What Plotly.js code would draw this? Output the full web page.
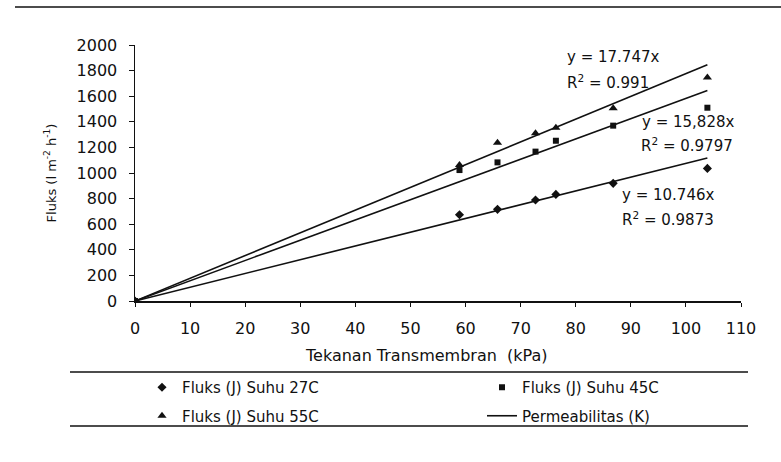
<!DOCTYPE html>
<html>
<head>
<meta charset="utf-8">
<script src="https://cdn.plot.ly/plotly-3.0.1.min.js"></script>
<style>html,body{margin:0;padding:0;background:#fff;}#chart{width:781px;height:462px;}</style>
</head>
<body>
<div id="chart"></div>
<script>
// Transmembrane pressure (kPa)
const pressure = [0, 58.9, 65.8, 72.7, 76.4, 86.8, 103.9];
// Flux values
const flux27 = [0, 674, 716, 789, 833, 919, 1036];
const flux45 = [0, 1023, 1083, 1167, 1252, 1370, 1510];
const flux55 = [0, 1062, 1237, 1310, 1354, 1505, 1747];
// Trend line (permeability) endpoints
const trendX = [0, 103.9];
const trend27 = [0, 1117];
const trend45 = [0, 1645];
const trend55 = [0, 1845];
// Labels
const seriesNames = ["Fluks (J) Suhu 27C", "Fluks (J) Suhu 45C", "Fluks (J) Suhu 55C", "Permeabilitas (K)"];
const eqLabels = ["y = 17.747x", "R<sup>2</sup> = 0.991", "y = 15,828x", "R<sup>2</sup> = 0.9797", "y = 10.746x", "R<sup>2</sup> = 0.9873"];
const xTicks = [0, 10, 20, 30, 40, 50, 60, 70, 80, 90, 100, 110];
const yTicks = [0, 200, 400, 600, 800, 1000, 1200, 1400, 1600, 1800, 2000];

const ink = '#111';
const F = 'DejaVu Sans, sans-serif';

const traces = [
  {x: pressure, y: flux27, mode: 'markers', name: seriesNames[0], legend: 'legend', legendgroup: 'g1', marker: {symbol: 'diamond', size: 7, color: ink}},
  {x: pressure, y: flux45, mode: 'markers', name: seriesNames[1], legend: 'legend2', legendgroup: 'g2', marker: {symbol: 'square', size: 6, color: ink}},
  {x: pressure, y: flux55, mode: 'markers', name: seriesNames[2], legend: 'legend', legendgroup: 'g3', marker: {symbol: 'triangle-up', size: 8, color: ink}},
  {x: trendX, y: trend55, mode: 'lines', name: seriesNames[3], legend: 'legend2', legendgroup: 'g4', line: {color: ink, width: 1.6}, showlegend: true},
  {x: trendX, y: trend45, mode: 'lines', name: seriesNames[3], legend: 'legend2', legendgroup: 'g4', line: {color: ink, width: 1.6}, showlegend: false},
  {x: trendX, y: trend27, mode: 'lines', name: seriesNames[3], legend: 'legend2', legendgroup: 'g4', line: {color: ink, width: 1.6}, showlegend: false}
];

const pxX = v => (v - 135) / (741 - 135);
const pxY = v => (301 - v) / (301 - 45);

const annPos = [[86.7, 1906], [85.9, 1713], [100.4, 1400], [100.2, 1219], [96.8, 828], [96.7, 641]];
const annotations = eqLabels.map((t, i) => ({
  text: t, x: annPos[i][0], y: annPos[i][1], xref: 'x', yref: 'y',
  showarrow: false, font: {family: F, size: 15, color: ink}
}));
annotations.push({
  text: 'Tekanan Transmembran  (kPa)', x: pxX(426), y: pxY(355), xref: 'paper', yref: 'paper',
  xanchor: 'center', yanchor: 'middle',
  showarrow: false, font: {family: F, size: 16, color: ink}
});

const legendBase = {
  orientation: 'v', traceorder: 'grouped', tracegroupgap: 6,
  xanchor: 'left', yanchor: 'top',
  font: {family: F, size: 15, color: ink}, bgcolor: 'rgba(0,0,0,0)'
};

const layout = {
  width: 781, height: 462,
  margin: {l: 135, r: 40, t: 45, b: 161},
  paper_bgcolor: '#fff', plot_bgcolor: '#fff',
  font: {family: F, color: ink},
  showlegend: true,
  legend: Object.assign({}, legendBase, {x: pxX(142), y: pxY(371)}),
  legend2: Object.assign({}, legendBase, {x: pxX(482), y: pxY(371)}),
  xaxis: {
    range: [0, 110], tickvals: xTicks, ticktext: xTicks.map(String),
    showgrid: false, zeroline: false, showline: true, linecolor: ink, linewidth: 1.5,
    ticks: 'outside', ticklen: 4, tickcolor: ink, ticklabelstandoff: 8,
    tickfont: {family: F, size: 16, color: ink}, fixedrange: true
  },
  yaxis: {
    range: [0, 2000], tickvals: yTicks, ticktext: yTicks.map(String),
    showgrid: false, zeroline: false, showline: true, linecolor: ink, linewidth: 1.5,
    ticks: 'outside', ticklen: 5, tickcolor: ink, ticklabelstandoff: 8,
    tickfont: {family: F, size: 16, color: ink},
    title: {text: 'Fluks (l m<sup>-2</sup> h<sup>-1</sup>)', font: {family: F, size: 13, color: ink}, standoff: 17},
    fixedrange: true
  },
  annotations: annotations,
  shapes: [
    {type: 'line', xref: 'paper', yref: 'paper', x0: pxX(15), x1: pxX(781), y0: pxY(7), y1: pxY(7), line: {color: ink, width: 1.5}},
    {type: 'line', xref: 'paper', yref: 'paper', x0: pxX(70), x1: pxX(748), y0: pxY(372), y1: pxY(372), line: {color: ink, width: 1.5}},
    {type: 'line', xref: 'paper', yref: 'paper', x0: pxX(70), x1: pxX(748), y0: pxY(426), y1: pxY(426), line: {color: ink, width: 1.5}}
  ]
};

Plotly.newPlot('chart', traces, layout, {displayModeBar: false, staticPlot: true});
</script>
</body>
</html>
